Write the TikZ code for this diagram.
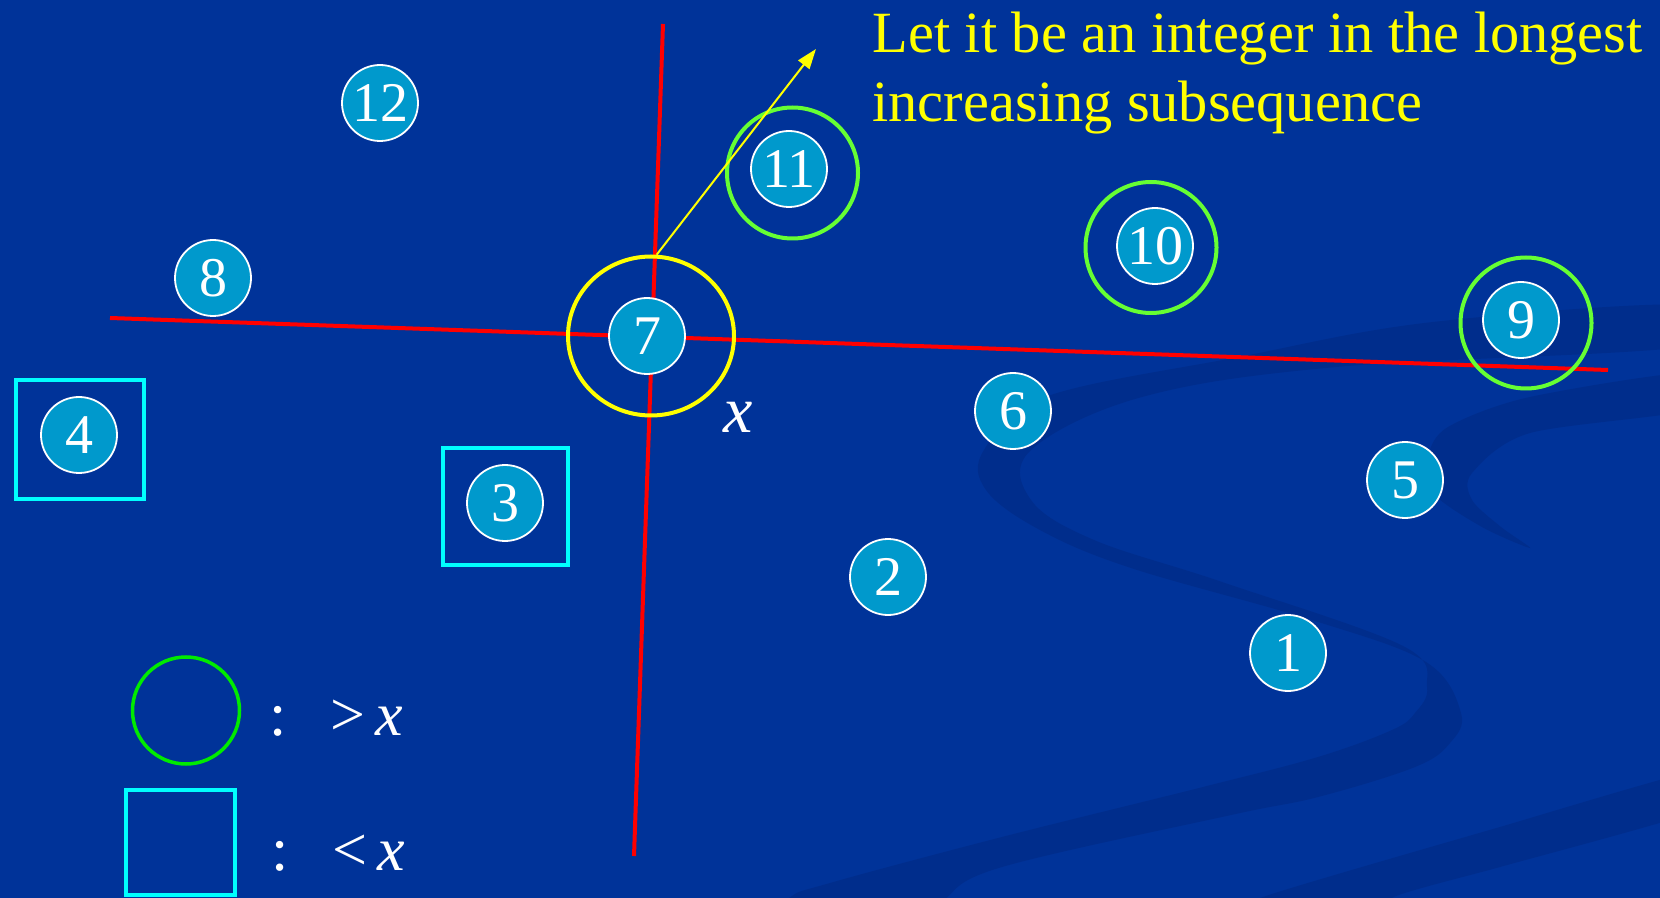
\documentclass[tikz,border=0pt]{standalone}
\usepackage{fontspec}
\setmainfont{Liberation Serif}
\usetikzlibrary{shapes.geometric,arrows.meta}
\definecolor{slidebg}{RGB}{0,51,153}
\definecolor{swoosh}{RGB}{0,45,140}
\definecolor{numfill}{RGB}{0,153,204}
\definecolor{ringgreen}{RGB}{102,255,51}
\definecolor{keygreen}{RGB}{0,235,0}
\definecolor{boxcyan}{RGB}{0,255,255}
\definecolor{axisred}{RGB}{255,0,0}
\definecolor{noteyellow}{RGB}{255,255,0}

\begin{document}
\begin{tikzpicture}[x=0.5pt,y=-0.5pt,
  num/.style={circle, draw=white, line width=0.9pt, fill=numfill, text=white,
    minimum size=38pt, inner sep=0pt, font=\fontsize{28}{28}\selectfont},
  bigring/.style={circle, draw=ringgreen, line width=2pt, minimum size=65.5pt, inner sep=0pt},
  cyanbox/.style={rectangle, draw=boxcyan, line width=2pt, inner sep=0pt},
  axisline/.style={draw=axisred, line width=2pt},
  lbl/.style={text=white, inner sep=0pt},
  notetext/.style={text=noteyellow, inner sep=0pt, anchor=base west,
    font=\fontsize{29.2}{35}\selectfont},
]
% slide background
\fill[slidebg] (0,0) rectangle (1660,898);
\useasboundingbox (0,0) rectangle (1660,898);

% darker decorative swooshes
\begin{scope}
  \clip (0,0) rectangle (1660,898);
  \fill[swoosh] plot[smooth cycle, tension=0.6] coordinates {
    (1700,305) (1433,322) (1239,357) (1045,397) (984,450) (986,490) (1040,530)
    (1131,568) (1312,620) (1426,662) (1461,713) (1450,743) (1415,767) (1318,797)
    (1231,815) (1002,867) (944,900) (920,930)
    (760,930) (789,898) (830,883) (1002,837) (1203,787) (1318,757) (1392,730)
    (1415,713) (1427,687) (1403,646) (1222,582) (1094,540) (1031,500) (1031,450)
    (1142,397) (1336,367) (1700,345)};
  \fill[swoosh] plot[smooth cycle, tension=0.5] coordinates {
    (1700,372) (1530,397) (1448,427) (1428,457) (1433,493) (1482,527) (1530,548)
    (1501,527) (1472,500) (1472,473) (1530,433) (1700,408)};
  \fill[swoosh] plot[smooth cycle, tension=0.3] coordinates {
    (1700,770) (1500,827) (1260,898) (1230,930) (1420,930) (1392,898) (1500,867) (1700,810)};
\end{scope}

% the two red axes through 7
\coordinate (hL) at (110,318);
\coordinate (hR) at (1608,370);
\coordinate (vT) at (663,24);
\coordinate (vB) at (634,856);
\draw[axisline] (hL) -- (hR);
\draw[axisline] (vT) -- (vB);

% rings and boxes
\node[ellipse, draw=noteyellow, line width=2pt, minimum width=83pt, minimum height=79.5pt,
  inner sep=0pt] (ring7) at (651,336) {};
\node[bigring] (r11) at (792.5,173) {};
\node[bigring] (r10) at (1151,247.5) {};
\node[bigring] (r9) at (1526,323) {};
\node[cyanbox, minimum width=64pt, minimum height=59.5pt] (b4) at (80,439.5) {};
\node[cyanbox, minimum width=62.5pt, minimum height=58.5pt] (b3) at (505.5,506.5) {};

% numbered points
\node[num] (n12) at (380,103) {12};
\node[num] (n11) at (789,169) {11};
\node[num] (n10) at (1155,246) {10};
\node[num] (n8)  at (213,278) {8};
\node[num] (n9)  at (1521,320) {9};
\node[num] (n7)  at (647,336) {7};
\node[num] (n4)  at (79,435) {4};
\node[num] (n6)  at (1013,411) {6};
\node[num] (n5)  at (1405,480) {5};
\node[num] (n3)  at (505,503) {3};
\node[num] (n2)  at (888,577) {2};
\node[num] (n1)  at (1288,653) {1};

\node[lbl, anchor=base, font=\fontsize{33}{33}\selectfont\itshape] (xlab) at (738,433) {x};

% note with arrow
\coordinate (tipA) at (816,49);
\draw[noteyellow, line width=1pt, -{Triangle[length=10pt,width=7pt]}] (ring7.86) -- (tipA);
\node[notetext] (note1) at (872,53) {Let it be an integer in the longest};
\node[notetext] (note2) at (872,122) {increasing subsequence};

% legend
\node[circle, draw=keygreen, line width=1.75pt, minimum size=53.5pt, inner sep=0pt] (keyring) at (186,710.5) {};
\node[cyanbox, minimum width=54.3pt, minimum height=52.5pt] (keybox) at (180.5,842.5) {};
\node[lbl, anchor=base west, font=\fontsize{31}{31}\selectfont] (keygt) at (269.5,735)
  {:\hspace{21.5pt}>\hspace{5pt}\textit{x}};
\node[lbl, anchor=base west, font=\fontsize{31}{31}\selectfont] (keylt) at (271.5,870)
  {:\hspace{21.5pt}<\hspace{5pt}\textit{x}};
\end{tikzpicture}
\end{document}
